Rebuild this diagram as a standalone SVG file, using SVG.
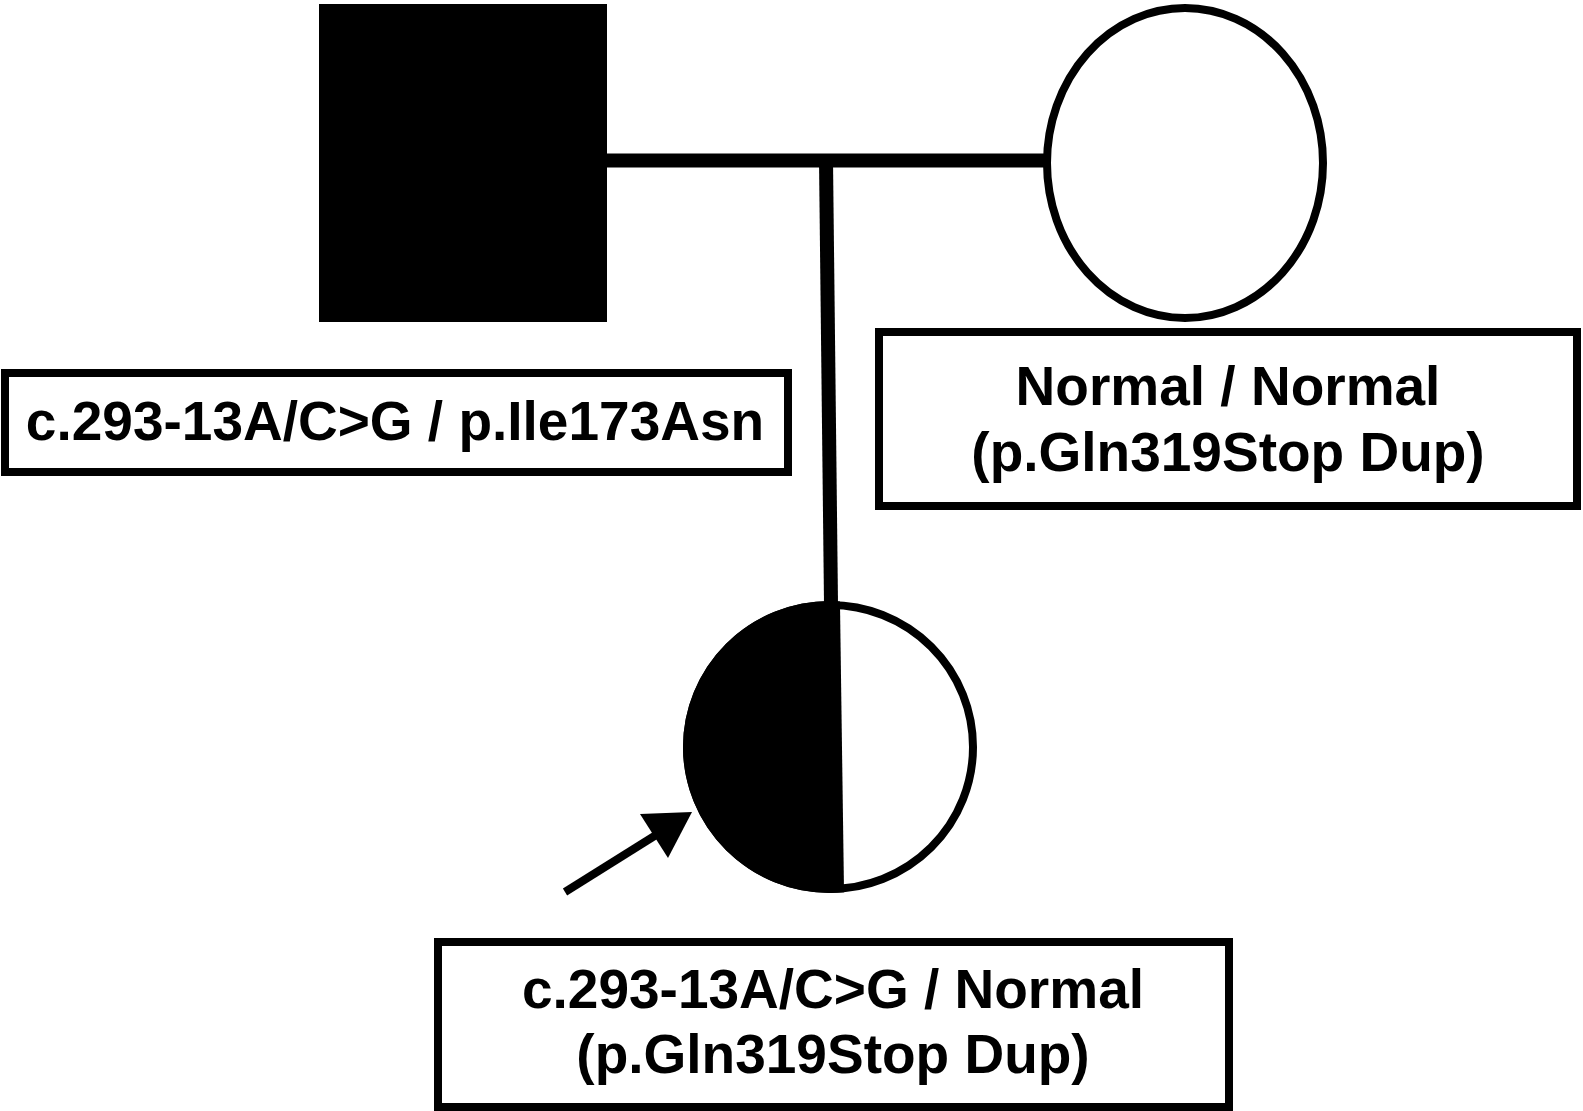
<svg xmlns="http://www.w3.org/2000/svg" width="1583" height="1111" viewBox="0 0 1583 1111">
<style>
.lbl{font-family:"Liberation Sans",Arial,Helvetica,sans-serif;font-weight:bold;font-size:55px;fill:#000;text-anchor:middle}
.box{fill:#fff;stroke:#000;stroke-width:8}
.conn{stroke:#000;stroke-width:14;fill:none}
.sym{fill:#fff;stroke:#000;stroke-width:8}
</style>
<defs>
<clipPath id="lefthalf">
<polygon points="600,590 839.8,590 844.2,905 600,905"/>
</clipPath>
</defs>
<rect width="1583" height="1111" fill="#fff"/>
<g id="connectors">
<line class="conn" x1="607" y1="160.5" x2="1045" y2="160.5"/>
<line class="conn" x1="826" y1="160" x2="831" y2="603"/>
</g>
<g id="father">
<rect x="319" y="4" width="288" height="318" fill="#000"/>
</g>
<g id="mother">
<ellipse class="sym" cx="1185" cy="163" rx="138" ry="155"/>
</g>
<g id="child">
<ellipse class="sym" cx="830" cy="747" rx="143" ry="142"/>
<ellipse cx="830" cy="747" rx="147" ry="146" fill="#000" clip-path="url(#lefthalf)"/>
</g>
<g id="proband-arrow">
<line x1="565" y1="892" x2="656" y2="835" stroke="#000" stroke-width="8"/>
<polygon points="692,812 640,814 668,858" fill="#000"/>
</g>
<g id="father-label">
<rect class="box" x="5" y="373" width="783" height="99"/>
<text class="lbl" x="395" y="440">c.293-13A/C&gt;G / p.Ile173Asn</text>
</g>
<g id="mother-label">
<rect class="box" x="879" y="332" width="698" height="174"/>
<text class="lbl" x="1228" y="405">Normal / Normal</text>
<text class="lbl" x="1228" y="471">(p.Gln319Stop Dup)</text>
</g>
<g id="child-label">
<rect class="box" x="438" y="942" width="791" height="165"/>
<text class="lbl" x="833" y="1008">c.293-13A/C&gt;G / Normal</text>
<text class="lbl" x="833" y="1073">(p.Gln319Stop Dup)</text>
</g>
</svg>
